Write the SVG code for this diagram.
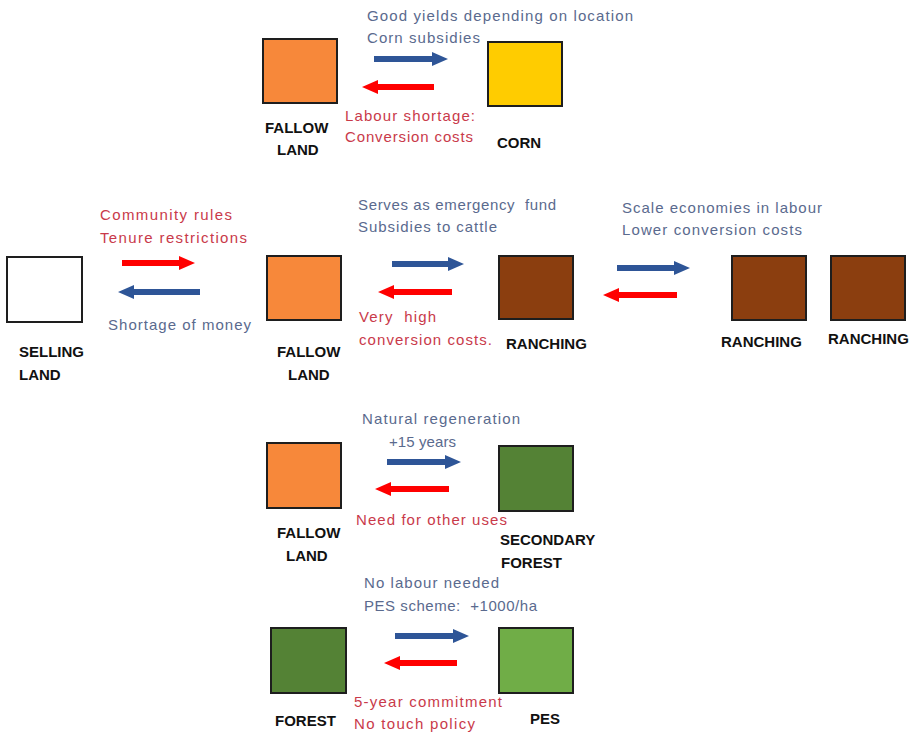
<svg xmlns="http://www.w3.org/2000/svg" width="916" height="734" viewBox="0 0 916 734">
<style>
.bx{stroke:#1e1e1e;stroke-width:2}
.or{fill:#F7883A}.ye{fill:#FFCC00}.br{fill:#8B3E0F}.dg{fill:#548235}.lg{fill:#70AD47}.wh{fill:#ffffff}
.lb{font-family:"Liberation Sans",Arial,sans-serif;font-size:15px;font-weight:bold;fill:#111}
.tb{font-family:"Liberation Sans",Arial,sans-serif;font-size:15px;fill:#5A6A8E}
.tr{font-family:"Liberation Sans",Arial,sans-serif;font-size:15px;fill:#C93A4A}
.ab{fill:#2E5597}.arr{fill:#FF0000}
</style>
<rect width="916" height="734" fill="#ffffff"/>
<g id="connectors">
<path class="ab" d="M374,56 H432 V52 L448,59 L432,66 V62 H374 Z"/>
<path class="arr" d="M434,84 H378 V80 L362,87 L378,94 V90 H434 Z"/>
<path class="arr" d="M122,260 H179 V256 L195,263 L179,270 V266 H122 Z"/>
<path class="ab" d="M200,289 H134 V285 L118,292 L134,299 V295 H200 Z"/>
<path class="ab" d="M392,261 H448 V257 L464,264 L448,271 V267 H392 Z"/>
<path class="arr" d="M452,289 H394 V285 L378,292 L394,299 V295 H452 Z"/>
<path class="ab" d="M617,265 H674 V261 L690,268 L674,275 V271 H617 Z"/>
<path class="arr" d="M677,292 H619 V288 L603,295 L619,302 V298 H677 Z"/>
<path class="ab" d="M387,459 H445 V455 L461,462 L445,469 V465 H387 Z"/>
<path class="arr" d="M449,486 H391 V482 L375,489 L391,496 V492 H449 Z"/>
<path class="ab" d="M395,633 H453 V629 L469,636 L453,643 V639 H395 Z"/>
<path class="arr" d="M457,660 H400 V656 L384,663 L400,670 V666 H457 Z"/>
<text class="tb" x="367" y="21" textLength="266">Good yields depending on location</text>
<text class="tb" x="367" y="43" textLength="113">Corn subsidies</text>
<text class="tr" x="345" y="121" textLength="130">Labour shortage:</text>
<text class="tr" x="345" y="142" textLength="128">Conversion costs</text>
<text class="tr" x="100" y="220" textLength="132">Community rules</text>
<text class="tr" x="100" y="243" textLength="147">Tenure restrictions</text>
<text class="tb" x="108" y="330" textLength="143">Shortage of money</text>
<text class="tb" x="358" y="210" textLength="198" xml:space="preserve">Serves as emergency  fund</text>
<text class="tb" x="358" y="232" textLength="139">Subsidies to cattle</text>
<text class="tr" x="359" y="322" textLength="77" xml:space="preserve">Very  high</text>
<text class="tr" x="359" y="345" textLength="133">conversion costs.</text>
<text class="tb" x="622" y="213" textLength="200">Scale economies in labour</text>
<text class="tb" x="622" y="235" textLength="180">Lower conversion costs</text>
<text class="tb" x="362" y="424" textLength="158">Natural regeneration</text>
<text class="tb" x="389" y="447" textLength="67">+15 years</text>
<text class="tr" x="356" y="525" textLength="151">Need for other uses</text>
<text class="tb" x="364" y="588" textLength="135">No labour needed</text>
<text class="tb" x="364" y="611" textLength="173" xml:space="preserve">PES scheme:  +1000/ha</text>
<text class="tr" x="354" y="707" textLength="148">5-year commitment</text>
<text class="tr" x="354" y="729" textLength="121">No touch policy</text>
</g>
<g id="fallow1"><rect class="bx or" x="263" y="39" width="74" height="64"/><text class="lb" x="265" y="133">FALLOW</text><text class="lb" x="277" y="155">LAND</text></g>
<g id="corn"><rect class="bx ye" x="488" y="42" width="74" height="64"/><text class="lb" x="497" y="148">CORN</text></g>
<g id="selling"><rect class="bx wh" x="7" y="257" width="75" height="65"/><text class="lb" x="19" y="357">SELLING</text><text class="lb" x="19" y="380">LAND</text></g>
<g id="fallow2"><rect class="bx or" x="267" y="256" width="74" height="64"/><text class="lb" x="277" y="357">FALLOW</text><text class="lb" x="288" y="380">LAND</text></g>
<g id="ranching1"><rect class="bx br" x="499" y="256" width="74" height="63"/><text class="lb" x="506" y="349">RANCHING</text></g>
<g id="ranching2"><rect class="bx br" x="732" y="256" width="74" height="64"/><text class="lb" x="721" y="347">RANCHING</text></g>
<g id="ranching3"><rect class="bx br" x="831" y="256" width="74" height="64"/><text class="lb" x="828" y="344">RANCHING</text></g>
<g id="fallow3"><rect class="bx or" x="267" y="443" width="74" height="65"/><text class="lb" x="277" y="538">FALLOW</text><text class="lb" x="286" y="561">LAND</text></g>
<g id="secondary"><rect class="bx dg" x="499" y="446" width="74" height="65"/><text class="lb" x="500" y="545">SECONDARY</text><text class="lb" x="501" y="568">FOREST</text></g>
<g id="forest"><rect class="bx dg" x="271" y="628" width="75" height="65"/><text class="lb" x="275" y="726">FOREST</text></g>
<g id="pes"><rect class="bx lg" x="499" y="628" width="74" height="65"/><text class="lb" x="530" y="724">PES</text></g>
</svg>
